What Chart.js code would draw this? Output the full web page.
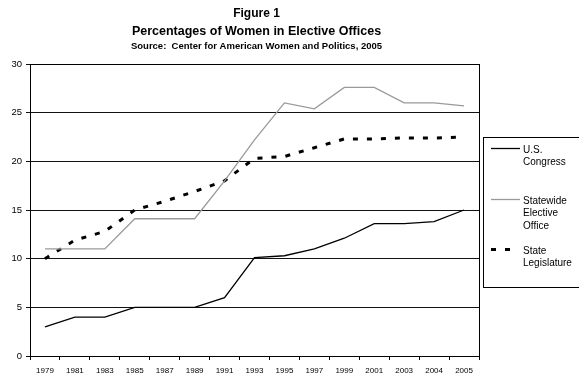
<!DOCTYPE html>
<html>
<head>
<meta charset="utf-8">
<script src="https://cdn.jsdelivr.net/npm/chart.js@4"></script>
<style>
  html, body { margin: 0; padding: 0; background: #fff; }
  #wrap { width: 579px; height: 375px; position: relative; }
</style>
</head>
<body>
<div id="wrap"><canvas id="womenChart"></canvas></div>
<script>
const years = ["1979", "1981", "1983", "1985", "1987", "1989", "1991", "1993", "1995", "1997", "1999", "2001", "2003", "2004", "2005"];
const usCongress = [3, 4, 4, 5, 5, 5, 6, 10.1, 10.3, 11, 12.1, 13.6, 13.6, 13.8, 15];
const statewideOffice = [11, 11, 11, 14.1, 14.1, 14.1, 18, 22.2, 26, 25.4, 27.6, 27.6, 26, 26, 25.7];
const stateLegislature = [10, 11.9, 12.8, 15, 15.9, 16.9, 18, 20.3, 20.5, 21.4, 22.3, 22.3, 22.4, 22.4, 22.5];
const yTicks = [0, 5, 10, 15, 20, 25, 30];

const titleLines = ["Figure 1", "Percentages of Women in Elective Offices", "Source:  Center for American Women and Politics, 2005"];
const legendText = [["U.S.", "Congress"], ["Statewide", "Elective", "Office"], ["State", "Legislature"]];

const FONT = "'Liberation Sans', Arial, sans-serif";

// titles, plot frame and the boxed legend on the right
const decorations = {
    id: "decorations",
    beforeDatasetsDraw(chart) {
        const { ctx, chartArea: a } = chart;
        ctx.save();
        ctx.strokeStyle = "#000";
        ctx.lineWidth = 1;
        ctx.strokeRect(Math.round(a.left) + 0.5, Math.round(a.top) + 0.5, Math.round(a.right - a.left), Math.round(a.bottom - a.top));
        ctx.restore();
    },
    afterDraw(chart) {
        const { ctx, chartArea: a } = chart;
        const cx = (a.left + a.right) / 2 + 2;
        ctx.save();
        ctx.fillStyle = "#000";
        ctx.textAlign = "center";
        ctx.textBaseline = "middle";
        ctx.font = "bold 12px " + FONT;
        ctx.fillText(titleLines[0], cx, 14);
        ctx.font = "bold 12.5px " + FONT;
        ctx.fillText(titleLines[1], cx, 32);
        ctx.font = "bold 9.5px " + FONT;
        ctx.fillText(titleLines[2], cx, 46);

        // legend
        ctx.strokeStyle = "#000";
        ctx.lineWidth = 1;
        ctx.strokeRect(483.5, 137.5, 100, 150);
        const rows = [148.5, 199.5, 249.5];
        ctx.textAlign = "left";
        ctx.font = "10px " + FONT;
        chart.data.datasets.forEach((ds, i) => {
            const y = rows[i];
            ctx.beginPath();
            ctx.strokeStyle = ds.borderColor;
            ctx.lineWidth = ds.borderWidth;
            ctx.setLineDash(ds.borderDash || []);
            ctx.moveTo(491, y);
            ctx.lineTo(ds.borderDash ? 514 : 520, y);
            ctx.stroke();
            ctx.setLineDash([]);
            legendText[i].forEach((t, j) => {
                ctx.fillText(t, 523, y + 1.5 + j * 12.5);
            });
        });
        ctx.restore();
    }
};

const ctx = document.getElementById("womenChart").getContext("2d");
const womenChart = new Chart(ctx, {
    type: "line",
    data: {
        labels: years,
        datasets: [
            {
                label: "U.S. Congress",
                data: usCongress,
                borderColor: "#000",
                borderWidth: 1.3,
                pointRadius: 0,
            },
            {
                label: "Statewide Elective Office",
                data: statewideOffice,
                borderColor: "#9a9a9a",
                borderWidth: 1.3,
                pointRadius: 0,
            },
            {
                label: "State Legislature",
                data: stateLegislature,
                borderColor: "#000",
                borderWidth: 3,
                borderDash: [5, 9],
                borderCapStyle: "butt",
                pointRadius: 0,
            },
        ],
    },
    options: {
        responsive: true,
        maintainAspectRatio: false,
        animation: false,
        layout: { padding: { top: 64, right: 100, left: 0, bottom: 0 } },
        plugins: {
            legend: { display: false },
            title: { display: false },
            tooltip: { enabled: false },
        },
        elements: { line: { tension: 0 } },
        scales: {
            x: {
                offset: true,
                afterFit: (s) => { s.height = 19; },
                grid: {
                    offset: true,
                    drawOnChartArea: false,
                    drawTicks: true,
                    tickLength: 4,
                    color: "#000",
                },
                border: { color: "#000", width: 1 },
                ticks: {
                    color: "#000",
                    font: { family: FONT, size: 8 },
                    padding: 6,
                    maxRotation: 0,
                    autoSkip: false,
                },
            },
            y: {
                min: 0,
                max: 30,
                afterFit: (s) => { s.width = 30; },
                afterBuildTicks: (s) => { s.ticks = yTicks.map((v) => ({ value: v })); },
                grid: {
                    color: "#111",
                    lineWidth: 1,
                    drawTicks: true,
                    tickLength: 4,
                },
                border: { color: "#000", width: 1 },
                ticks: {
                    color: "#000",
                    font: { family: FONT, size: 9.5 },
                    padding: 4,
                },
            },
        },
    },
    plugins: [decorations],
});
</script>
</body>
</html>
